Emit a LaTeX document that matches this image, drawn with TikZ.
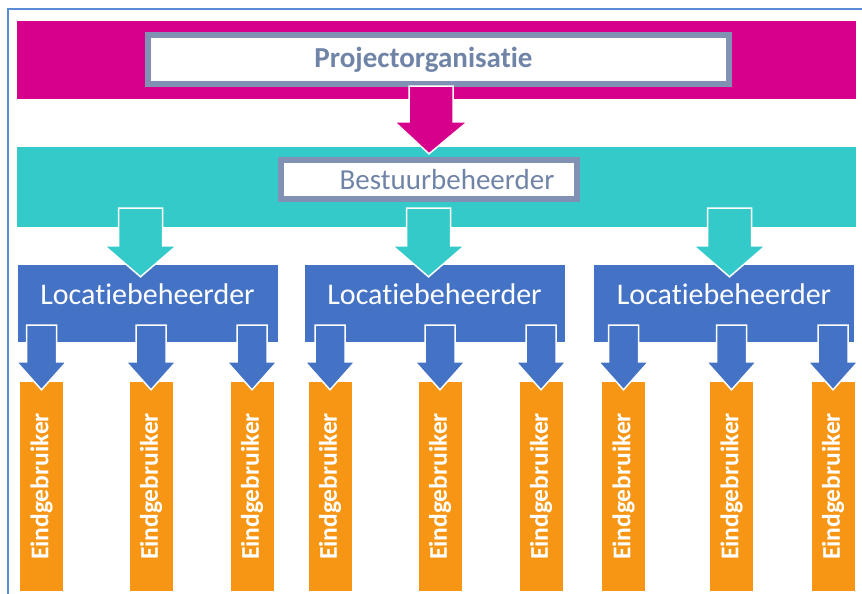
\documentclass[tikz,border=0pt]{standalone}
\usepackage{fontspec}
\setmainfont{Carlito}[Ligatures={NoCommon,NoContextual}]
\usetikzlibrary{calc}

\definecolor{projpink}{RGB}{214,0,140}
\definecolor{bestteal}{RGB}{52,202,202}
\definecolor{locblue}{RGB}{68,114,196}
\definecolor{eindorange}{RGB}{246,150,20}
\definecolor{boxedge}{RGB}{128,145,180}
\definecolor{boxtext}{RGB}{112,132,168}
\definecolor{frameblue}{RGB}{91,141,214}

\tikzset{
	band/.style={rectangle, inner sep=0pt, draw=none},
	titlebox/.style={rectangle, fill=white, draw=boxedge, line width=6pt, text=boxtext, inner sep=0pt},
	locbox/.style={rectangle, fill=locblue, text=white, inner sep=0pt, minimum width=260pt, minimum height=77pt, text depth=18pt, font=\fontsize{30}{30}\selectfont},
	eindbar/.style={rectangle, fill=eindorange, text=white, rotate=90, inner sep=0pt, minimum width=209pt, minimum height=43pt, font=\bfseries\fontsize{25.5}{26}\selectfont},
	blockarrow/.style n args={3}{draw=white, line width=1.5pt, to path={let \p1=(\tikztostart), \p2=(\tikztotarget) in
		(\x1-#1,\y1) -- (\x1-#1,\y2+#3) -- (\x1-#2,\y2+#3) -- (\x2,\y2) -- (\x1+#2,\y2+#3) -- (\x1+#1,\y2+#3) -- (\x1+#1,\y1) -- cycle}}
}

\begin{document}
\begin{tikzpicture}[x=1pt, y=-1pt]
	\useasboundingbox (0,0) rectangle (862,594);
	\clip (0,0) rectangle (862,594);
	\draw[frameblue, line width=1.3pt] (8,620) -- (8,9) -- (880,9);

	\node[band, fill=projpink, minimum width=839pt, minimum height=78pt] (projband) at (436.5,60) {};
	\node[titlebox, minimum width=581pt, minimum height=49pt, font=\bfseries\fontsize{29}{29}\selectfont] (proj) at (438.5,59.5) {\hspace*{-30pt}Projectorganisatie};

	\node[band, fill=bestteal, minimum width=839pt, minimum height=80pt] (bestband) at (436.5,187) {};
	\node[titlebox, minimum width=296pt, minimum height=39pt, font=\fontsize{29}{29}\selectfont] (best) at (429,179.5) {\hspace*{36pt}Bestuurbeheerder};

	\node[locbox] (loc1) at (147.5,303.5) {Locatiebeheerder};
	\node[locbox] (loc2) at (434.5,303.5) {Locatiebeheerder};
	\node[locbox] (loc3) at (724,303.5) {Locatiebeheerder};

	\foreach \n/\x in {11/41.5, 12/151, 13/252, 21/330, 22/440, 23/541, 31/623.5, 32/731.5, 33/833} {
		\node[eindbar] (e\n) at (\x,486.5) {Eindgebruiker};
	}

	\draw[blockarrow={22pt}{36.5pt}{32pt}, fill=projpink] ($(proj.south)+(-7.5,-1)$) to ($(bestband.north)+(-7.5,7)$);
	\foreach \l/\dx in {loc1/-7, loc2/-6, loc3/5.5} {
		\draw[blockarrow={22pt}{36pt}{31pt}, fill=bestteal] ($(bestband.south -| \l)+(\dx,-19)$) to ($(\l.north)+(\dx,12)$);
	}
	\foreach \l/\n in {loc1/11, loc1/12, loc1/13, loc2/21, loc2/22, loc2/23, loc3/31, loc3/32, loc3/33} {
		\draw[blockarrow={15pt}{25pt}{28pt}, fill=locblue] ($(\l.south -| e\n)+(0,-17)$) to ($(e\n.east)+(0,8)$);
	}
\end{tikzpicture}
\end{document}
